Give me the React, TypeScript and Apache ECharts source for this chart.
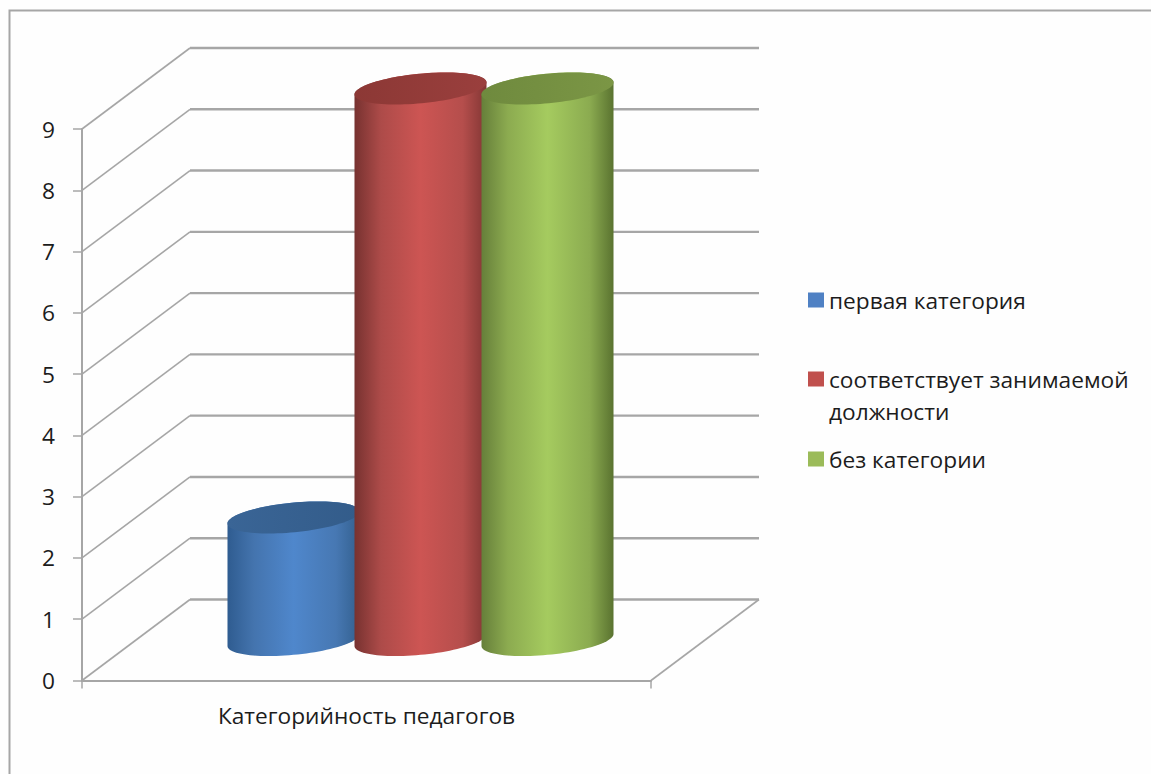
import React, { useEffect, useRef } from "react";
import * as echarts from "echarts";

const categories = ["Категорийность педагогов"];
const seriesNames = ["первая категория", "соответствует занимаемой должности", "без категории"];
const seriesValues = [2, 9, 9];
const gridTicks = [0, 1, 2, 3, 4, 5, 6, 7, 8, 9];
const legendColors = ["#4f81c4", "#c0504d", "#9bbb59"];
const sideOffsets = [0, 0.2, 0.5, 0.82, 1];
const sideStops = [
  ["#2f5c90", "#4474ae", "#4f87cc", "#4778b3", "#33608f"],
  ["#773230", "#ad4b49", "#cd5553", "#b54e4c", "#823634"],
  ["#667f3a", "#8cab50", "#a5cb5f", "#8bab50", "#5a7330"],
];
const capStops = [
  ["#3a6596", "#335c8a"],
  ["#8c3835", "#9a3f3d"],
  ["#6f8a3e", "#7b9645"],
];

const GRAY = "#a6a6a6";
const TEXT = "#1c1c1c";
const FONT = "Open Sans";
const FONT_SIZE = 22.7;
const DX = 108;
const DY = -81;
const A = 66.3;
const B = 14.8;
const TILT = (5.5 * Math.PI) / 180;
const SPACING = 127;

function ellipsePoint(cx: number, cy: number, t: number) {
  const x = A * Math.cos(t) * Math.cos(TILT) + B * Math.sin(t) * Math.sin(TILT);
  const y = -A * Math.cos(t) * Math.sin(TILT) + B * Math.sin(t) * Math.cos(TILT);
  return [cx + x, cy + y];
}

function grad(stops: string[], offsets?: number[]) {
  return new echarts.graphic.LinearGradient(
    0, 0, 1, 0,
    stops.map((color, i) => ({ offset: offsets ? offsets[i] : i / (stops.length - 1), color }))
  );
}

function cylinderSeries(index: number) {
  return {
    type: "custom",
    name: seriesNames[index],
    coordinateSystem: "cartesian2d",
    silent: true,
    itemStyle: { color: legendColors[index] },
    data: [[0, seriesValues[index]]],
    encode: { x: 0, y: 1 },
    renderItem: (_p: any, api: any) => {
      const base = api.coord([api.value(0), 0]);
      const top = api.coord([api.value(0), api.value(1)]);
      const cx = base[0] + DX / 2 + (index - 1) * SPACING;
      const by = base[1] + DY / 2;
      const ty = top[1] + DY / 2;
      const steps = 48;
      const tStart = Math.atan2(B * Math.sin(TILT), A * Math.cos(TILT));
      const outline: number[][] = [];
      for (let i = 0; i <= steps; i++) {
        const t = tStart - Math.PI * (i / steps);
        outline.push(ellipsePoint(cx, ty, t));
      }
      for (let i = 0; i <= steps; i++) {
        const t = tStart + Math.PI - (Math.PI * i) / steps;
        outline.push(ellipsePoint(cx, by, t));
      }
      const cap: number[][] = [];
      for (let i = 0; i < steps * 2; i++) {
        cap.push(ellipsePoint(cx, ty, (Math.PI * i) / steps));
      }
      return {
        type: "group",
        children: [
          { type: "polygon", shape: { points: outline }, style: { fill: grad(sideStops[index], sideOffsets) } },
          { type: "polygon", shape: { points: cap }, style: { fill: grad(capStops[index]) } },
        ],
      };
    },
  };
}

const wallSeries = {
  type: "custom",
  name: "стенка",
  coordinateSystem: "cartesian2d",
  silent: true,
  data: gridTicks.map((v) => [0, v]),
  encode: { x: 0, y: 1 },
  renderItem: (params: any, api: any) => {
    const cs = params.coordSys;
    const y = api.coord([0, api.value(1)])[1];
    const left = cs.x;
    const right = cs.x + cs.width;
    const children: any[] = [
      {
        type: "line",
        shape: { x1: left, y1: y, x2: left + DX, y2: y + DY },
        style: { stroke: GRAY, lineWidth: 1.6 },
      },
      {
        type: "line",
        shape: { x1: left + DX, y1: y + DY, x2: right + DX, y2: y + DY },
        style: { stroke: GRAY, lineWidth: 2.4 },
      },
    ];
    if (api.value(1) === 0) {
      children.push({
        type: "line",
        shape: { x1: right, y1: y, x2: right + DX, y2: y + DY },
        style: { stroke: GRAY, lineWidth: 1.6 },
      });
    }
    return { type: "group", children };
  },
};

const legendTops = [284, 331, 443];

export default function App() {
  const ref = useRef<HTMLDivElement>(null);
  useEffect(() => {
    const chart = echarts.init(ref.current!, undefined, { renderer: "svg" });
    chart.setOption({
      animation: false,
      backgroundColor: "#fefefe",
      textStyle: { fontFamily: FONT },
      grid: { left: 82, right: 500, top: 129, bottom: 93.5 },
      xAxis: {
        type: "category",
        data: categories,
        axisLine: { lineStyle: { color: GRAY, width: 2 } },
        axisTick: { show: true, length: 8, lineStyle: { color: GRAY, width: 1.5 } },
        axisLabel: { color: TEXT, fontFamily: FONT, fontSize: FONT_SIZE, margin: 23 },
        splitLine: { show: false },
      },
      yAxis: {
        type: "value",
        min: 0,
        max: 9,
        interval: 1,
        axisLine: { show: true, lineStyle: { color: GRAY, width: 2 } },
        axisTick: { show: true, length: 9, lineStyle: { color: GRAY, width: 1.5 } },
        axisLabel: { color: TEXT, fontFamily: FONT, fontSize: FONT_SIZE, margin: 27 },
        splitLine: { show: false },
      },
      legend: seriesNames.map((name, i) => ({
        orient: "vertical",
        left: 808,
        top: legendTops[i],
        padding: 0,
        icon: "rect",
        itemWidth: 16,
        itemHeight: 15,
        itemGap: 0,
        selectedMode: false,
        formatter: (n: string) =>
          n.includes("занимаемой ") ? " \n" + n.replace("занимаемой ", "занимаемой\n") : n,
        textStyle: { color: TEXT, fontFamily: FONT, fontSize: FONT_SIZE, lineHeight: 32 },
        data: [{ name }],
      })),
      graphic: [
        {
          type: "polyline",
          silent: true,
          shape: { points: [[9.5, 774], [9.5, 10.5], [1151, 10.5]] },
          style: { stroke: GRAY, lineWidth: 2, fill: "none" },
        },
      ],
      series: [wallSeries, cylinderSeries(0), cylinderSeries(1), cylinderSeries(2)],
    });
    return () => chart.dispose();
  }, []);
  return <div ref={ref} style={{ position: "absolute", left: 0, top: 0, width: 1151, height: 774 }} />;
}
